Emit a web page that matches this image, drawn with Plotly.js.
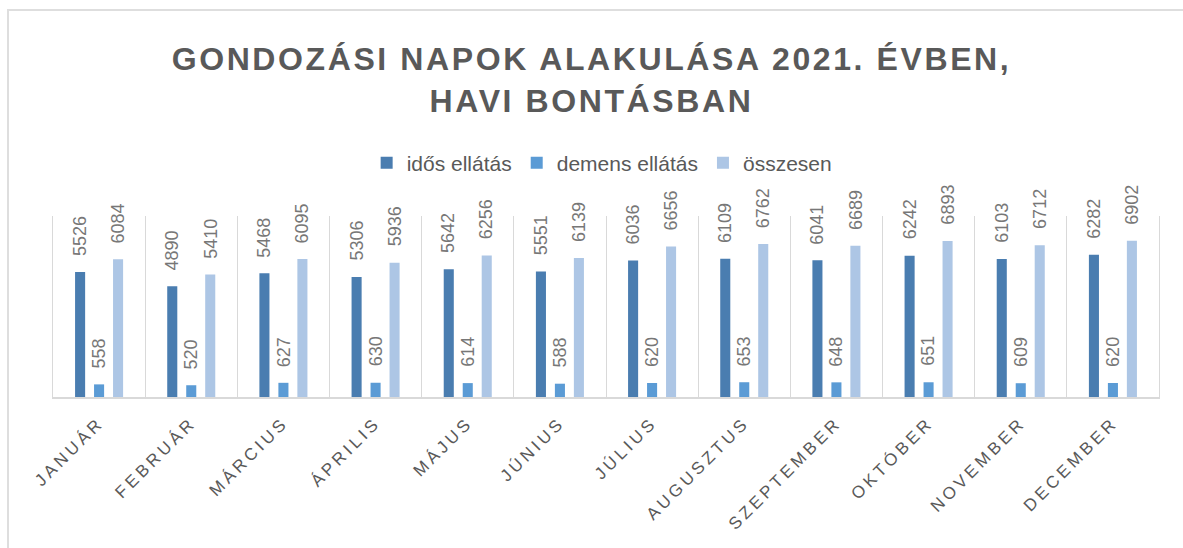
<!DOCTYPE html>
<html>
<head>
<meta charset="utf-8">
<script src="https://cdn.plot.ly/plotly-3.0.1.min.js"></script>
<style>
  html, body { margin: 0; padding: 0; background: #fff; overflow: hidden; }
  #chart { width: 1183px; height: 548px; }
  #frame { position: absolute; left: 7px; top: 9px; width: 1400px; height: 800px;
           border-left: 2px solid #dedede; border-top: 2px solid #dedede; pointer-events: none; }
  .gtitle { letter-spacing: 2.6px; }
  .xtick text { letter-spacing: 3.6px; }
</style>
</head>
<body>
<div id="chart"></div>
<div id="frame"></div>
<script>
const months = ["JANUÁR","FEBRUÁR","MÁRCIUS","ÁPRILIS","MÁJUS","JÚNIUS","JÚLIUS","AUGUSZTUS","SZEPTEMBER","OKTÓBER","NOVEMBER","DECEMBER"];
const idos = [5526,4890,5468,5306,5642,5551,6036,6109,6041,6242,6103,6282];
const demens = [558,520,627,630,614,588,620,653,648,651,609,620];
const osszesen = [6084,5410,6095,5936,6256,6139,6656,6762,6689,6893,6712,6902];
const seriesNames = ["idős ellátás","demens ellátás","összesen"];
const seriesColors = ["#4a7db0","#5b9bd5","#adc6e5"];
const seriesValues = [idos, demens, osszesen];

const traces = seriesValues.map((vals, i) => ({
  type: "bar", name: seriesNames[i], x: months, y: vals,
  marker: { color: seriesColors[i] }, hoverinfo: "skip"
}));

const offsets = [-19, 0, 19];
const annotations = [];
seriesValues.forEach((vals, i) => {
  vals.forEach((v, j) => {
    annotations.push({
      x: months[j], y: v, xref: "x", yref: "y", text: String(v),
      showarrow: false, textangle: -90, xanchor: "center", yanchor: "bottom",
      xshift: offsets[i], yshift: 14,
      font: { family: "Liberation Sans, Arial, sans-serif", size: 18, color: "#777777" }
    });
  });
});

const layout = {
  width: 1183, height: 548,
  margin: { l: 53, r: 24, t: 216, b: 151 },
  paper_bgcolor: "#ffffff", plot_bgcolor: "#ffffff",
  barmode: "group", bargap: 0.382, bargroupgap: 0.47,
  title: {
    text: "GONDOZÁSI NAPOK ALAKULÁSA 2021. ÉVBEN,<br>HAVI BONTÁSBAN",
    font: { family: "Liberation Sans, Arial, sans-serif", size: 32, color: "#595959", weight: "bold" },
    x: 0.5, xref: "container", xanchor: "center",
    y: 1 - 70 / 548, yref: "container", yanchor: "middle"
  },
  showlegend: true,
  legend: {
    orientation: "h", xref: "container", x: 0.509, xanchor: "center",
    yref: "container", y: 1 - 163 / 548, yanchor: "middle",
    font: { family: "Liberation Sans, Arial, sans-serif", size: 21, color: "#595959" },
    itemwidth: 30, traceorder: "normal"
  },
  xaxis: {
    type: "category", tickson: "boundaries", showgrid: true, gridcolor: "#d9d9d9", gridwidth: 1,
    showline: true, linecolor: "#d9d9d9", linewidth: 2, ticks: "",
    tickangle: -45, ticklabelstandoff: 7,
    tickfont: { family: "Liberation Sans, Arial, sans-serif", size: 17, color: "#595959" },
    fixedrange: true
  },
  yaxis: {
    range: [0, 8000], showgrid: false, zeroline: false, showticklabels: false, ticks: "",
    showline: true, mirror: true, linecolor: "#d9d9d9", linewidth: 1, fixedrange: true
  },
  annotations: annotations
};

Plotly.newPlot("chart", traces, layout, { displayModeBar: false, staticPlot: true });
</script>
</body>
</html>
